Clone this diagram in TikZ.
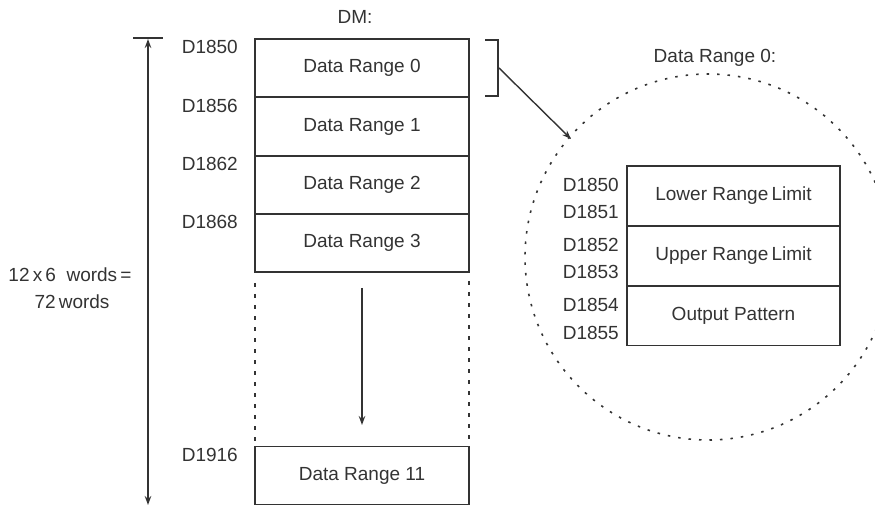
\documentclass[tikz,border=0pt]{standalone}
\usepackage{fontspec}
\setmainfont{Liberation Sans}
\usetikzlibrary{arrows.meta}
\definecolor{ink}{HTML}{333333}
\begin{document}
\begin{tikzpicture}[x=1bp,y=-1bp,
  every node/.style={text=ink,font=\fontsize{19bp}{23bp}\selectfont,inner sep=0pt},
  membox/.style={draw=ink,line width=1.5bp,minimum width=214bp,minimum height=58bp},
  subbox/.style={draw=ink,line width=1.5bp,minimum width=213bp,minimum height=60bp},
  addr/.style={anchor=east},
  dotline/.style={draw=ink,line width=2bp,dash pattern=on 4bp off 7bp},
  circdots/.style={draw=ink,line width=1.6bp,dash pattern=on 2.5bp off 8bp},
  arr/.style={draw=ink,line width=1.4bp,-{Stealth[length=9bp,width=6.5bp]}}
]
\useasboundingbox (0,0) rectangle (875,506);

% main memory column
\node at (355,17) (dm) {DM:};
\node[membox] (r0) at (362,68) {Data Range 0};
\node[membox] (r1) at (362,126.5) {Data Range 1};
\node[membox] (r2) at (362,185) {Data Range 2};
\node[membox] (r3) at (362,243) {Data Range 3};
\node[membox] (r11) at (362,475.5) {Data Range 11};

\node[addr] (a0) at (238,47) {D1850};
\node[addr] (a1) at (238,106) {D1856};
\node[addr] (a2) at (238,164) {D1862};
\node[addr] (a3) at (238,222) {D1868};
\node[addr] (a11) at (238,455) {D1916};

% dotted continuation
\draw[dotline] (255,283) -- (255,443);
\draw[dotline] (469,281) -- (469,441);
\coordinate (gs) at (362,288);
\coordinate (ge) at (362,425);
\draw[arr] (gs) -- (ge);

% total size arrow
\coordinate (tt) at (148,39);
\coordinate (tb) at (148,505);
\draw[draw=ink,line width=1.5bp] (133,38) -- (163,38);
\draw[draw=ink,line width=1.4bp,{Stealth[length=9bp,width=6.5bp]}-{Stealth[length=9bp,width=6.5bp]}] (tt) -- (tb);
\node (sz1) at (70,275) {12\,x\,6~~words\,=};
\node (sz2) at (72,302) {72\,words};

% bracket and pointer
\draw[draw=ink,line width=1.5bp] (485,40) -- (498,40) -- (498,96) -- (485,96);
\coordinate (bm) at (499,68);
\coordinate (ce) at (571,139);
\draw[arr] (bm) -- (ce);

% detail circle
\begin{scope}
\clip (0,0) rectangle (875,506);
\draw[circdots] (708,257) circle[radius=183];
\end{scope}
\node (dt) at (715,58) {Data Range 0:};

\node[subbox] (s0) at (733.5,196) {Lower Range\,Limit};
\node[subbox] (s1) at (733.5,256) {Upper Range\,Limit};
\node[subbox] (s2) at (733.5,315.5) {Output Pattern};
\node[addr] (b0) at (619,185) {D1850};
\node[addr] (b1) at (619,212) {D1851};
\node[addr] (b2) at (619,245) {D1852};
\node[addr] (b3) at (619,272) {D1853};
\node[addr] (b4) at (619,305) {D1854};
\node[addr] (b5) at (619,333) {D1855};
\end{tikzpicture}
\end{document}
